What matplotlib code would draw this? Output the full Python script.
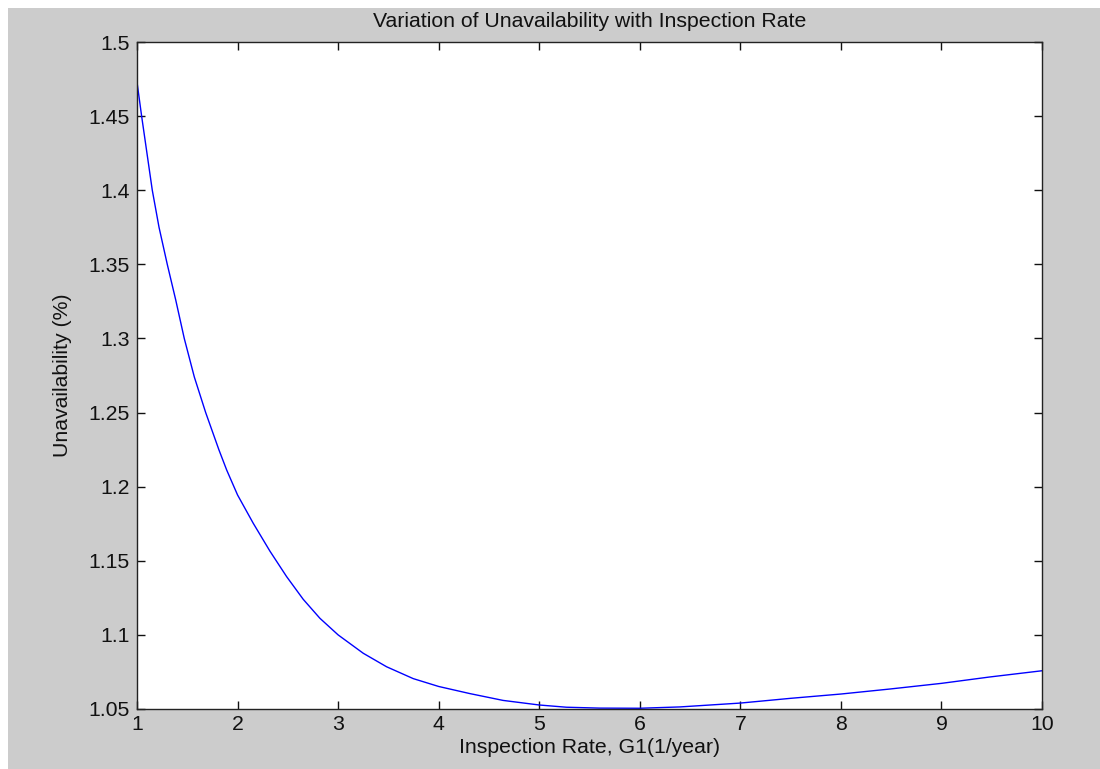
import matplotlib
matplotlib.use('Agg')
import matplotlib.pyplot as plt
from matplotlib.patches import Rectangle

# inspection rate (1/year) and unavailability (%)
rate = [1.0, 1.046, 1.099, 1.152, 1.219, 1.301, 1.385, 1.47, 1.57, 1.683,
        1.815, 1.892, 2.0, 2.156, 2.322, 2.488, 2.653, 2.819, 3.0, 3.25,
        3.482, 3.747, 4.0, 4.31, 4.64, 5.0, 5.27, 5.6, 6.0, 6.4, 6.7,
        7.0, 7.5, 8.0, 8.49, 9.0, 9.48, 10.0]
unavail = [1.473, 1.45, 1.425, 1.40, 1.375, 1.35, 1.326, 1.30, 1.274, 1.25,
           1.2248, 1.2112, 1.1944, 1.1753, 1.1565, 1.1393, 1.1240, 1.1112, 1.1, 1.0876,
           1.0785, 1.0705, 1.0652, 1.0604, 1.0558, 1.0527, 1.0512, 1.0506, 1.0505, 1.0514, 1.0527,
           1.054, 1.0572, 1.0601, 1.0635, 1.0673, 1.0716, 1.0758]

xticks = [1, 2, 3, 4, 5, 6, 7, 8, 9, 10]
yticks = [1.05, 1.1, 1.15, 1.2, 1.25, 1.3, 1.35, 1.4, 1.45, 1.5]
ytick_labels = ['1.05', '1.1', '1.15', '1.2', '1.25', '1.3', '1.35', '1.4', '1.45', '1.5']

plt.rcParams['font.family'] = ['Liberation Sans', 'DejaVu Sans']
fontSize = 15.3

fig = plt.figure(figsize=(11, 7.69), dpi=100)
fig.patch.set_facecolor('white')
# grey matlab-style figure background with a thin white strip top and left
fig.patches.append(Rectangle((8/1100, 0), 1, (769-8)/769, transform=fig.transFigure,
                             facecolor='#cccccc', edgecolor='none', zorder=-1))

ax = fig.add_axes([137/1100, 1-709/769, (1042-137)/1100, (709-42)/769])
ax.set_facecolor('white')
ax.plot(rate, unavail, color='#0000ff', lw=1.0)

ax.set_xlim(1, 10)
ax.set_ylim(1.05, 1.5)
ax.set_xticks(xticks)
ax.set_yticks(yticks)
ax.set_yticklabels(ytick_labels)
ax.tick_params(direction='in', length=6, width=1, top=True, right=True,
               labelsize=fontSize, colors='#111111', pad=5)
ax.tick_params(axis='x', pad=4)
for s in ax.spines.values():
    s.set_linewidth(1.0)
    s.set_color('#222222')

ax.set_title('Variation of Unavailability with Inspection Rate', fontsize=fontSize, pad=11, color='#111111')
ax.set_xlabel('Inspection Rate, G1(1/year)', fontsize=fontSize, labelpad=3, color='#111111')
ax.set_ylabel('Unavailability (%)', fontsize=fontSize, labelpad=12, color='#111111')

fig.savefig('out.png', dpi=100)
